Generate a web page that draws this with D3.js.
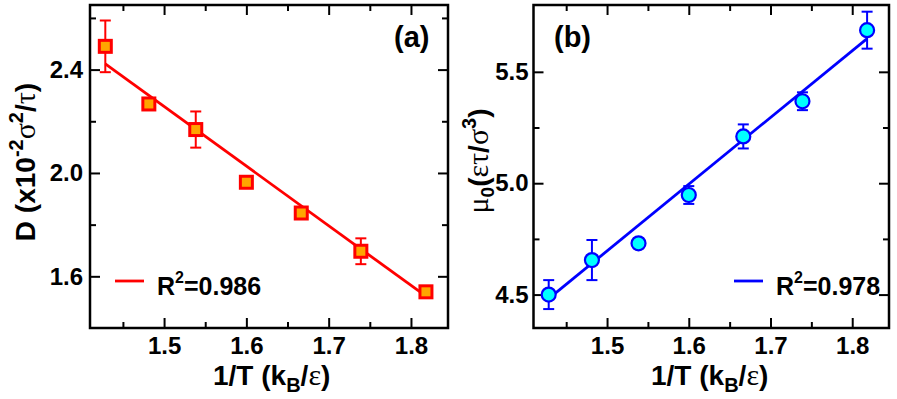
<!DOCTYPE html>
<html>
<head>
<meta charset="utf-8">
<script src="https://cdn.jsdelivr.net/npm/d3@7"></script>
<style>
  html, body { margin: 0; padding: 0; background: #fff; }
  svg { display: block; }
  text { font-family: "Liberation Sans", Arial, Helvetica, sans-serif; font-weight: bold; fill: #000; }
  .greek { font-family: "Liberation Serif", "DejaVu Serif", serif; font-weight: normal; }
</style>
</head>
<body>
<svg id="chart" width="897" height="399"></svg>
<script>
// ---------------- data ----------------
const invT   = [1.4286, 1.4815, 1.5385, 1.6000, 1.6667, 1.7391, 1.8182];
const D      = [2.490, 2.267, 2.168, 1.964, 1.845, 1.697, 1.540];
const Derr   = [0.100, 0.015, 0.070, 0.022, 0.020, 0.050, 0.012];
const mu0    = [4.500, 4.655, 4.730, 4.947, 5.210, 5.368, 5.687];
const muErr  = [0.065, 0.090, 0.022, 0.040, 0.054, 0.040, 0.083];
const fitX   = [1.4286, 1.8182];
const fitD   = [2.422, 1.523];
const fitMu  = [4.482, 5.649];
const xMajor = [1.5, 1.6, 1.7, 1.8];
const xMinor = [1.45, 1.55, 1.65, 1.75];
const dMajor = [1.6, 2.0, 2.4];
const dMinor = [1.8, 2.2, 2.6];
const muMajor = [4.5, 5.0, 5.5];
const muMinor = [4.75, 5.25];
const r2Labels = ["0.986", "0.978"];
const panelLabels = ["(a)", "(b)"];

const svg = d3.select("#chart");

function panel(cfg) {
  const x = d3.scaleLinear().domain([1.41, 1.845]).range([cfg.x0, cfg.x1]);
  const y = d3.scaleLinear().domain(cfg.yDomain).range([328, 5]);
  const g = svg.append("g");

  // axes (ticks inward, all four sides)
  g.append("g").attr("transform", `translate(0,${y.range()[0]})`)
    .call(d3.axisBottom(x).tickValues(xMajor).tickSize(-10).tickPadding(9).tickFormat(d3.format(".1f")));
  g.append("g").attr("transform", `translate(0,${y.range()[0]})`)
    .call(d3.axisBottom(x).tickValues(xMinor).tickSize(-6).tickFormat(""));
  g.append("g").attr("transform", `translate(0,${y.range()[1]})`)
    .call(d3.axisTop(x).tickValues(xMajor).tickSize(-10).tickFormat(""));
  g.append("g").attr("transform", `translate(0,${y.range()[1]})`)
    .call(d3.axisTop(x).tickValues(xMinor).tickSize(-6).tickFormat(""));
  g.append("g").attr("transform", `translate(${cfg.x0},0)`)
    .call(d3.axisLeft(y).tickValues(cfg.yMajor).tickSize(-10).tickPadding(cfg.yPad).tickFormat(d3.format(".1f")));
  g.append("g").attr("transform", `translate(${cfg.x0},0)`)
    .call(d3.axisLeft(y).tickValues(cfg.yMinor).tickSize(-6).tickFormat(""));
  g.append("g").attr("transform", `translate(${cfg.x1},0)`)
    .call(d3.axisRight(y).tickValues(cfg.yMajor).tickSize(-10).tickFormat(""));
  g.append("g").attr("transform", `translate(${cfg.x1},0)`)
    .call(d3.axisRight(y).tickValues(cfg.yMinor).tickSize(-6).tickFormat(""));
  g.selectAll(".domain").remove();
  g.selectAll(".tick line").attr("stroke", "#000").attr("stroke-width", 2);
  g.selectAll(".tick text").attr("font-size", 24).attr("font-weight", "bold")
    .attr("font-family", "Liberation Sans, Arial, sans-serif").attr("fill", "#000");

  // frame
  g.append("rect").attr("x", cfg.x0).attr("y", y.range()[1])
    .attr("width", cfg.x1 - cfg.x0).attr("height", y.range()[0] - y.range()[1])
    .attr("fill", "none").attr("stroke", "#000").attr("stroke-width", 2.5);

  // fit line
  g.append("path")
    .attr("d", d3.line().x((d, i) => x(fitX[i])).y(d => y(d))(cfg.fit))
    .attr("fill", "none").attr("stroke", cfg.line).attr("stroke-width", 2.8);

  // error bars
  const eb = g.append("g").attr("stroke", cfg.line).attr("stroke-width", 2).attr("fill", "none");
  invT.forEach((xv, i) => {
    const cx = x(xv), yt = y(cfg.vals[i] + cfg.errs[i]), yb = y(cfg.vals[i] - cfg.errs[i]);
    eb.append("line").attr("x1", cx).attr("x2", cx).attr("y1", yt).attr("y2", yb);
    eb.append("line").attr("x1", cx - 5.5).attr("x2", cx + 5.5).attr("y1", yt).attr("y2", yt);
    eb.append("line").attr("x1", cx - 5.5).attr("x2", cx + 5.5).attr("y1", yb).attr("y2", yb);
  });

  // markers
  if (cfg.marker === "square") {
    g.selectAll("rect.pt").data(cfg.vals).enter().append("rect").attr("class", "pt")
      .attr("x", (d, i) => x(invT[i]) - 6).attr("y", d => y(d) - 6)
      .attr("width", 12).attr("height", 12)
      .attr("fill", cfg.fill).attr("stroke", cfg.line).attr("stroke-width", 3);
  } else {
    g.selectAll("circle.pt").data(cfg.vals).enter().append("circle").attr("class", "pt")
      .attr("cx", (d, i) => x(invT[i])).attr("cy", d => y(d)).attr("r", 7)
      .attr("fill", cfg.fill).attr("stroke", cfg.line).attr("stroke-width", 2.2);
  }

  // legend
  g.append("line").attr("x1", cfg.legX).attr("x2", cfg.legX + 29)
    .attr("y1", cfg.legY).attr("y2", cfg.legY)
    .attr("stroke", cfg.line).attr("stroke-width", 2.8);
  const lt = g.append("text").attr("x", cfg.legX + 42).attr("y", cfg.legY + 14).attr("font-size", 25);
  lt.append("tspan").text("R");
  lt.append("tspan").attr("font-size", 16).attr("dy", -12).text("2");
  lt.append("tspan").attr("dy", 12).text("=" + cfg.r2);

  // panel label
  g.append("text").attr("x", cfg.labX).attr("y", 47).attr("font-size", 29).text(cfg.label);

  // x title
  const xt = g.append("text").attr("x", cfg.xTitleX).attr("y", 385).attr("font-size", 28);
  xt.append("tspan").text("1/T (k");
  xt.append("tspan").attr("font-size", 20).attr("dy", 7).text("B");
  xt.append("tspan").attr("dy", -7).text("/");
  xt.append("tspan").attr("class", "greek").attr("font-size", 30).text("ε");
  xt.append("tspan").text(")");
  return g;
}

panel({ x0: 90, x1: 448, yDomain: [1.4, 2.65], yMajor: dMajor, yMinor: dMinor, yPad: 7,
        vals: D, errs: Derr, fit: fitD, line: "#ff0000", fill: "#ffa500", marker: "square",
        legX: 115, legY: 281, r2: r2Labels[0], label: panelLabels[0], labX: 394, xTitleX: 213 });
panel({ x0: 533.5, x1: 889, yDomain: [4.35, 5.8], yMajor: muMajor, yMinor: muMinor, yPad: 5,
        vals: mu0, errs: muErr, fit: fitMu, line: "#0000ff", fill: "#00ffff", marker: "circle",
        legX: 734, legY: 281, r2: r2Labels[1], label: panelLabels[1], labX: 554, xTitleX: 651 });

// y titles
const yl = svg.append("text").attr("transform", "translate(35,162) rotate(-90)")
  .attr("text-anchor", "middle").attr("font-size", 28);
yl.append("tspan").text("D (x10");
yl.append("tspan").attr("font-size", 20).attr("dy", -12).text("-2");
yl.append("tspan").attr("class", "greek").attr("font-size", 30).attr("dy", 12).text("σ");
yl.append("tspan").attr("font-size", 20).attr("dy", -12).text("2");
yl.append("tspan").attr("dy", 12).text("/");
yl.append("tspan").attr("class", "greek").attr("font-size", 30).text("τ");
yl.append("tspan").text(")");

const yr = svg.append("text").attr("transform", "translate(488,161) rotate(-90)")
  .attr("text-anchor", "middle").attr("font-size", 28);
yr.append("tspan").attr("class", "greek").attr("font-size", 30).text("μ");
yr.append("tspan").attr("font-size", 19).attr("dy", 6).text("0");
yr.append("tspan").attr("dy", -6).text("(");
yr.append("tspan").attr("class", "greek").attr("font-size", 30).text("ετ");
yr.append("tspan").text("/");
yr.append("tspan").attr("class", "greek").attr("font-size", 30).text("σ");
yr.append("tspan").attr("font-size", 20).attr("dy", -12).text("3");
yr.append("tspan").attr("dy", 12).text(")");
</script>
</body>
</html>
